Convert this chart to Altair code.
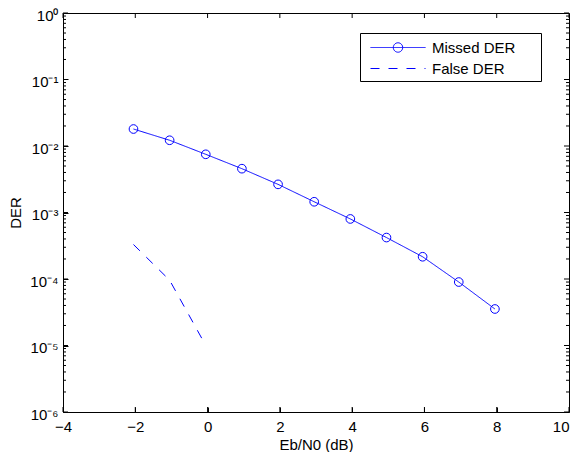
import altair as alt
import pandas as pd

# ---- data ----
missed_ebn0 = [-2.05, -1.05, -0.05, 0.95, 1.95, 2.95, 3.95, 4.95, 5.95, 6.95, 7.95]
missed_der = [0.0180, 0.0122, 0.0075, 0.00456, 0.00265, 0.00145, 0.00080,
              0.00042, 0.000216, 0.000090, 0.0000354]
false_ebn0 = [-2.05, -1.05, -0.05]
false_der = [3.3e-4, 9.6e-5, 1.0e-5]
series_names = ["Missed DER", "False DER"]

x_ticks = [-4, -2, 0, 2, 4, 6, 8, 10]
y_major = [1e-6, 1e-5, 1e-4, 1e-3, 1e-2, 1e-1, 1e0]
y_minor = [m * 10.0 ** e for e in range(-6, 0) for m in range(2, 10)]

df = pd.concat([
    pd.DataFrame({"ebn0": missed_ebn0, "der": missed_der, "series": series_names[0]}),
    pd.DataFrame({"ebn0": false_ebn0, "der": false_der, "series": series_names[1]}),
], ignore_index=True)
xt_df = pd.DataFrame({"ebn0": x_ticks})
ymaj_df = pd.DataFrame({"der": y_major})
ymin_df = pd.DataFrame({"der": y_minor})

BLUE = "#0000ff"
FONT = "Liberation Sans"
W, H = 506, 399
MAJ, MIN = 5, 3

xscale = alt.Scale(domain=[-4, 10], nice=False, zero=False)
yscale = alt.Scale(type="log", domain=[1e-6, 1], nice=False)

sup = "['\u2070','\u00b9','\u00b2','\u00b3','\u2074','\u2075','\u2076']"
expo = "round(log(datum.value)/LN10)"
label_expr = f"'10' + ({expo} < 0 ? '\u207b' : '') + {sup}[abs({expo})]"

common = dict(grid=False, domain=False, ticks=True, tickColor="black", tickWidth=1,
              tickOpacity=1, labelFlush=False, labelOverlap=False)

ax_bottom = alt.Axis(orient="bottom", values=x_ticks, format="d", offset=-5, tickSize=5,
                     labelPadding=7, title="Eb/N0 (dB)", titlePadding=3,
                     labelAlign={"condition": {"test": "datum.value == 10", "value": "right"},
                                 "value": "center"},
                     **common)
ax_left = alt.Axis(orient="left", values=y_major, labelExpr=label_expr, offset=-5, tickSize=5,
                   labelPadding=5, labelOffset=2, title="DER", titlePadding=6, **common)


def X(axis=None):
    return alt.X("ebn0:Q", scale=xscale, axis=axis)


def Y(axis=None):
    return alt.Y("der:Q", scale=yscale, axis=axis)


legend = alt.Legend(
    orient="none", legendX=297, legendY=20,
    title="xxx", titleOrient="right", titleOpacity=0, titleFontSize=10, titlePadding=5,
    strokeColor="black", fillColor="white", padding=4, cornerRadius=0,
    symbolSize=400, symbolStrokeWidth=1, symbolStrokeColor=BLUE,
    symbolFillColor="transparent", symbolOffset=23.5,
    labelFont=FONT, labelFontSize=15, labelColor="black", labelOffset=23.5,
    rowPadding=2,
)

missed_symbol = "M-2.75,0H2.75M-0.47,0A0.47,0.47,0,1,1,0.47,0A0.47,0.47,0,1,1,-0.47,0"
false_symbol = "M-2.75,0H2.75"

base = alt.Chart(df)

lines = base.mark_line(color=BLUE, strokeWidth=1).encode(
    x=X(ax_bottom), y=Y(ax_left),
    strokeDash=alt.StrokeDash("series:N",
                              scale=alt.Scale(domain=series_names, range=[[1, 0], [9, 9]]),
                              legend=legend),
)

points = base.transform_filter(alt.datum.series == series_names[0]).mark_point(
    shape="circle", size=75, filled=False, color=BLUE, strokeWidth=1, opacity=1
).encode(x=X(), y=Y())

legend_layer = base.transform_filter("false").mark_point(
    filled=False, color=BLUE, strokeWidth=1, opacity=1
).encode(
    x=X(), y=Y(),
    shape=alt.Shape("series:N",
                    scale=alt.Scale(domain=series_names, range=[missed_symbol, false_symbol]),
                    legend=legend),
)

# inward tick marks on all four sides (MATLAB box style)
tick = dict(color="black", strokeWidth=1)
xt_bottom = alt.Chart(xt_df).mark_rule(**tick).encode(x=X(), y=alt.value(H), y2=alt.value(H - MAJ))
xt_top = alt.Chart(xt_df).mark_rule(**tick).encode(x=X(), y=alt.value(0), y2=alt.value(MAJ))
yt_left = alt.Chart(ymaj_df).mark_rule(**tick).encode(y=Y(), x=alt.value(0), x2=alt.value(MAJ))
yt_right = alt.Chart(ymaj_df).mark_rule(**tick).encode(y=Y(), x=alt.value(W), x2=alt.value(W - MAJ))
ym_left = alt.Chart(ymin_df).mark_rule(**tick).encode(y=Y(), x=alt.value(0), x2=alt.value(MIN))
ym_right = alt.Chart(ymin_df).mark_rule(**tick).encode(y=Y(), x=alt.value(W), x2=alt.value(W - MIN))

chart = alt.layer(
    lines, points, legend_layer, xt_bottom, xt_top, yt_left, yt_right, ym_left, ym_right
).resolve_scale(
    x="shared", y="shared"
).resolve_axis(
    x="independent", y="independent"
).properties(
    width=W, height=H,
    padding={"left": 55, "top": 5, "right": 1, "bottom": 40},
    autosize=alt.AutoSizeParams(type="none"),
    background="white",
).configure_view(
    stroke="black", strokeWidth=1
).configure_axis(
    labelFont=FONT, labelFontSize=15, labelColor="black",
    titleFont=FONT, titleFontSize=15, titleFontWeight="normal", titleColor="black",
)

chart.save("out.html", embed_options={"renderer": "svg", "actions": False})
